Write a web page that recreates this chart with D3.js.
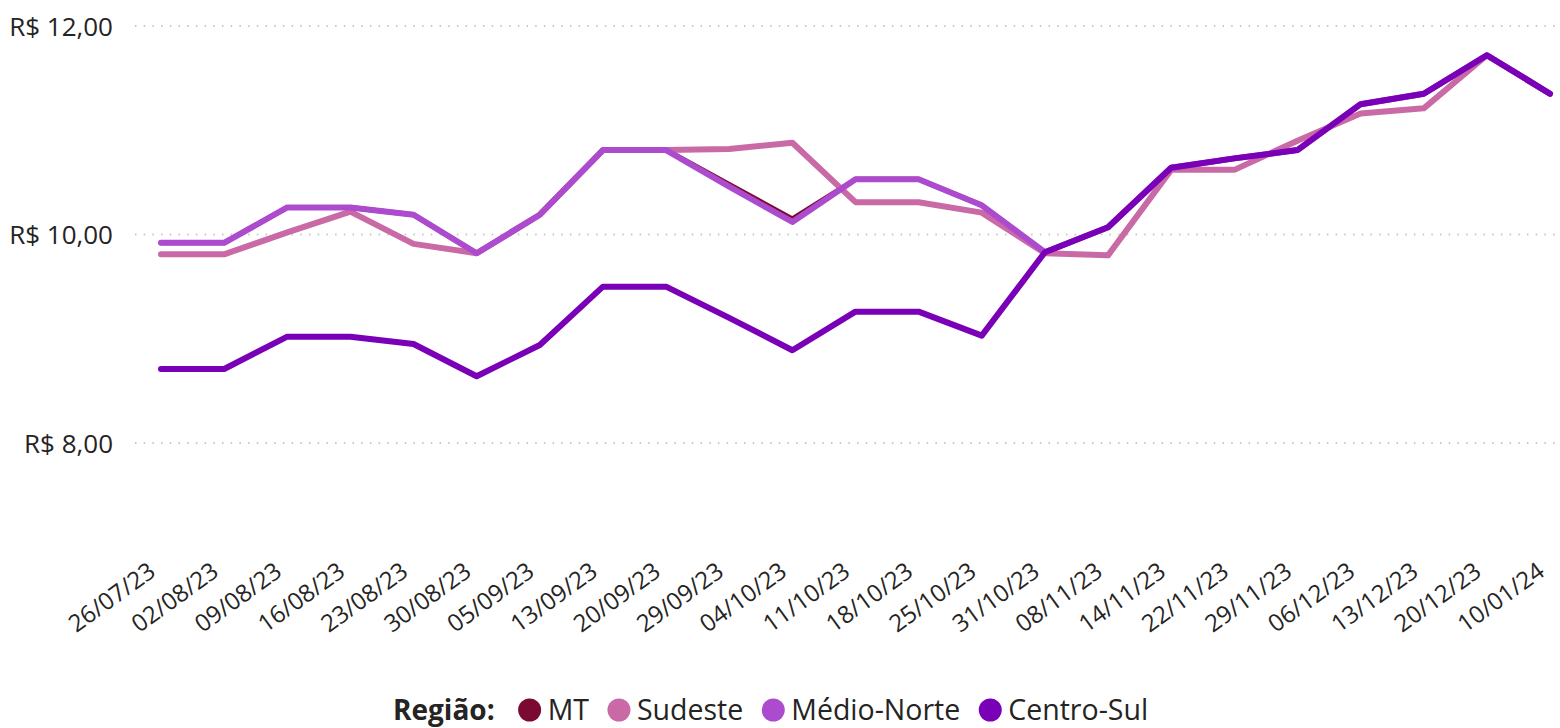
<!DOCTYPE html>
<html>
<head>
<meta charset="utf-8">
<script src="https://cdn.jsdelivr.net/npm/d3@7"></script>
<style>
  body { margin: 0; background: #fff; }
  svg text { font-family: "Open Sans", "Noto Sans", sans-serif; fill: #252423; }
</style>
</head>
<body>
<script>
var datas = ["26/07/23", "02/08/23", "09/08/23", "16/08/23", "23/08/23", "30/08/23",
  "05/09/23", "13/09/23", "20/09/23", "29/09/23", "04/10/23", "11/10/23", "18/10/23",
  "25/10/23", "31/10/23", "08/11/23", "14/11/23", "22/11/23", "29/11/23", "06/12/23",
  "13/12/23", "20/12/23", "10/01/24"];

var mt = [9.92, 9.92, 10.26, 10.26, 10.19, 9.82, 10.19, 10.81, 10.81, 10.48, 10.15, 10.53, 10.53,
  10.28, 9.83, 10.07, 10.64, 10.73, 10.81, 11.25, 11.35, 11.72, 11.35];
var sudeste = [9.81, 9.81, 10.02, 10.22, 9.91, 9.82, 10.19, 10.81, 10.81, 10.82, 10.88, 10.31, 10.31,
  10.21, 9.82, 9.80, 10.62, 10.62, 10.90, 11.16, 11.21, 11.72, 11.35];
var medioNorte = [9.92, 9.92, 10.26, 10.26, 10.19, 9.82, 10.19, 10.81, 10.81, 10.46, 10.12, 10.53, 10.53,
  10.28, 9.83, 10.07, 10.64, 10.73, 10.81, 11.25, 11.35, 11.72, 11.35];
var centroSul = [8.71, 8.71, 9.02, 9.02, 8.95, 8.64, 8.94, 9.50, 9.50, 9.20, 8.89, 9.26, 9.26,
  9.03, 9.83, 10.07, 10.64, 10.73, 10.81, 11.25, 11.35, 11.72, 11.35];

var regioes = ["MT", "Sudeste", "Médio-Norte", "Centro-Sul"];
var cores = ["#7b0a33", "#c96aa6", "#ad4bcf", "#7a00b8"];
var valores = [mt, sudeste, medioNorte, centroSul];
var yTicks = [8, 10, 12];

var W = 1560, H = 728;
var svg = d3.select("body").append("svg").attr("width", W).attr("height", H);

var x = d3.scalePoint().domain(datas).range([161, 1550]);
var y = d3.scaleLinear().domain([8, 12]).range([443, 26]);

var fmt = function(v){ return "R$ " + d3.format(".2f")(v).replace(".", ","); };

// grade pontilhada
svg.append("g").selectAll("line")
    .data(yTicks)
    .enter().append("line")
    .attr("x1", 135).attr("x2", W)
    .attr("y1", function(d){ return y(d); })
    .attr("y2", function(d){ return y(d); })
    .attr("stroke", "#c8c8c8")
    .attr("stroke-width", 2)
    .attr("stroke-dasharray", "1.5,7.2");

var yAxis = svg.append("g")
    .attr("transform", "translate(118,0)")
    .call(d3.axisLeft(y).tickValues(yTicks).tickFormat(fmt).tickSize(0).tickPadding(5));
yAxis.select(".domain").remove();
yAxis.selectAll("text").style("font-size", "26px").attr("dy", "0.35em");

var xAxis = svg.append("g")
    .attr("transform", "translate(0,548)")
    .call(d3.axisBottom(x).tickSize(0).tickPadding(0));
xAxis.select(".domain").remove();
xAxis.selectAll("text")
    .style("font-size", "24px")
    .style("text-anchor", "end")
    .attr("y", 0)
    .attr("dy", "0.75em")
    .attr("transform", "translate(-15,12) rotate(-36)");

var line = d3.line()
    .x(function(d, i){ return x(datas[i]); })
    .y(function(d){ return y(d); });

svg.append("g").selectAll("path")
    .data(valores)
    .enter().append("path")
    .attr("d", line)
    .attr("fill", "none")
    .attr("stroke", function(d, i){ return cores[i]; })
    .attr("stroke-width", function(d, i){ return i == 0 ? 5 : 6; })
    .attr("stroke-linejoin", "round")
    .attr("stroke-linecap", "round");

// legenda
var leg = svg.append("g").attr("transform", "translate(393,710)");
var titulo = leg.append("text")
    .attr("dy", "0.35em")
    .style("font-size", "28px")
    .style("font-weight", "bold")
    .text("Região:");
var lx = titulo.node().getComputedTextLength() + 24;
regioes.forEach(function(r, i){
    leg.append("circle").attr("cx", lx + 11).attr("cy", 0).attr("r", 11.5).attr("fill", cores[i]);
    var t = leg.append("text")
        .attr("x", lx + 29)
        .attr("dy", "0.35em")
        .style("font-size", "28.5px")
        .text(r);
    lx += 29 + t.node().getComputedTextLength() + 19;
});
</script>
</body>
</html>
